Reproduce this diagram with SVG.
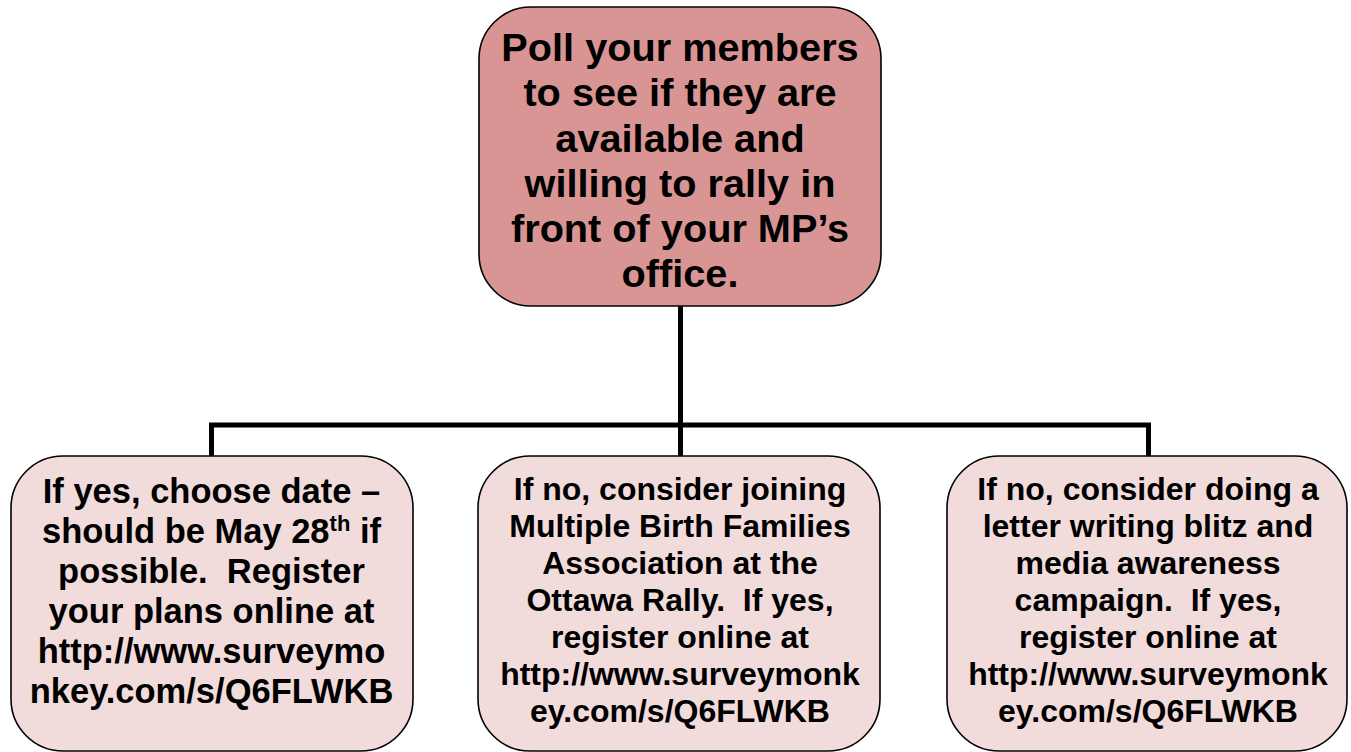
<svg xmlns="http://www.w3.org/2000/svg" width="1351" height="752" viewBox="0 0 1351 752">
<style>
.box{stroke:#000;stroke-width:1.6}
.top{fill:#D99594}
.sub{fill:#F2DBDB}
.t{font-family:"Liberation Sans",Arial,sans-serif;font-weight:bold;fill:#000;text-anchor:middle;white-space:pre}
.conn{stroke:#000;stroke-width:5;fill:none;stroke-linecap:butt;stroke-linejoin:miter}
</style>
<rect width="1351" height="752" fill="#fff"/>
<g id="connectors">
<path class="conn" d="M680.5 306 V425"/>
<path class="conn" d="M211.5 456 V425 H1148.5 V456"/>
<path class="conn" d="M680.5 425 V456"/>
</g>
<g id="node-top">
<rect class="box top" x="479" y="7" width="402" height="299" rx="52" ry="52"/>
<text class="t" font-size="39.7"><tspan x="680" y="61">Poll your members</tspan><tspan x="680" y="106">to see if they are</tspan><tspan x="680" y="152">available and</tspan><tspan x="680" y="197">willing to rally in</tspan><tspan x="680" y="242">front of your MP’s</tspan><tspan x="680" y="287">office.</tspan></text>
</g>
<g id="node-left">
<rect class="box sub" x="11" y="456" width="402" height="295" rx="52" ry="52"/>
<text class="t" font-size="34.5"><tspan x="211.5" y="503">If yes, choose date –</tspan><tspan x="211.5" y="543">should be May 28<tspan font-size="22" dy="-12">th</tspan><tspan dy="12"> if</tspan></tspan><tspan x="211.5" y="583">possible.  Register</tspan><tspan x="211.5" y="623">your plans online at</tspan><tspan x="211.5" y="663">http://www.surveymo</tspan><tspan x="211.5" y="703">nkey.com/s/Q6FLWKB</tspan></text>
</g>
<g id="node-middle">
<rect class="box sub" x="478" y="456" width="402" height="295" rx="52" ry="52"/>
<text class="t" font-size="32"><tspan x="680" y="500">If no, consider joining</tspan><tspan x="680" y="537">Multiple Birth Families</tspan><tspan x="680" y="574">Association at the</tspan><tspan x="680" y="611">Ottawa Rally.  If yes,</tspan><tspan x="680" y="648">register online at</tspan><tspan x="680" y="685">http://www.surveymonk</tspan><tspan x="680" y="722">ey.com/s/Q6FLWKB</tspan></text>
</g>
<g id="node-right">
<rect class="box sub" x="947" y="456" width="400" height="295" rx="52" ry="52"/>
<text class="t" font-size="32"><tspan x="1148" y="500">If no, consider doing a</tspan><tspan x="1148" y="537">letter writing blitz and</tspan><tspan x="1148" y="574">media awareness</tspan><tspan x="1148" y="611">campaign.  If yes,</tspan><tspan x="1148" y="648">register online at</tspan><tspan x="1148" y="685">http://www.surveymonk</tspan><tspan x="1148" y="722">ey.com/s/Q6FLWKB</tspan></text>
</g>
</svg>
